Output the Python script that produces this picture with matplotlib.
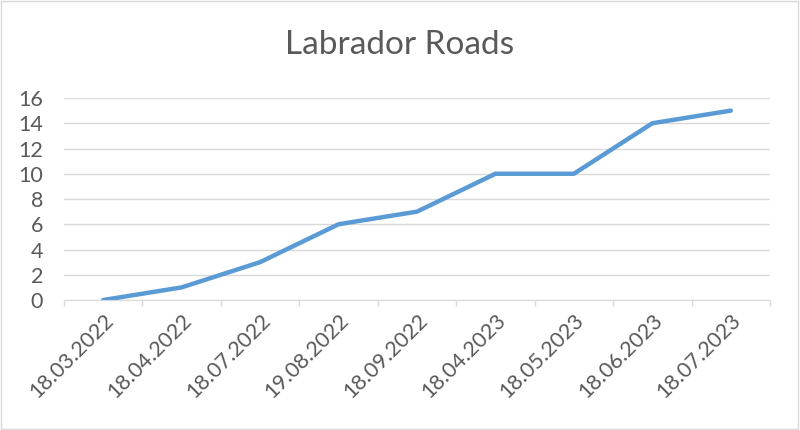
import matplotlib
matplotlib.use("Agg")
import matplotlib.pyplot as plt
from matplotlib.patches import Rectangle
from matplotlib.ticker import FixedLocator

dates = ["18.03.2022", "18.04.2022", "18.07.2022", "19.08.2022", "18.09.2022",
         "18.04.2023", "18.05.2023", "18.06.2023", "18.07.2023"]
values = [0, 1, 3, 6, 7, 10, 10, 14, 15]
yticks = [0, 2, 4, 6, 8, 10, 12, 14, 16]

plt.rcParams['font.family'] = ['Lato', 'DejaVu Sans']

fig = plt.figure(figsize=(8, 4.3), dpi=100)
ax = fig.add_axes([0.08, 0.3023, 0.8825, 0.4698])

x = list(range(len(dates)))
ax.plot(x, values, color="#5B9BD5", linewidth=3.2, solid_capstyle="round", zorder=3)

ax.set_xlim(-0.5, len(dates) - 0.5)
ax.set_ylim(0, 16)
ax.set_yticks(yticks)
ax.set_yticklabels([str(v) for v in yticks], fontsize=15.5, color="#595959")
ax.set_xticks(x)
ax.set_xticklabels(dates, rotation=45, ha="right", rotation_mode="anchor",
                   fontsize=15.5, color="#595959")
ax.xaxis.set_minor_locator(FixedLocator([i - 0.5 for i in range(len(dates) + 1)]))
ax.tick_params(axis="x", which="major", length=0, pad=7)
ax.tick_params(axis="x", which="minor", length=4.5, width=1, color="#D9D9D9", direction="out")
ax.tick_params(axis="y", length=0, pad=15)
ax.grid(axis="y", color="#D9D9D9", linewidth=1)
ax.set_axisbelow(True)
for s in ["top", "right", "left"]:
    ax.spines[s].set_visible(False)
ax.spines["bottom"].set_color("#D9D9D9")

fig.text(0.5, 0.895, "Labrador Roads", ha="center", va="center",
         fontsize=24, color="#595959")

fig.patches.append(Rectangle((0.001, 0.002), 0.997, 0.995, transform=fig.transFigure,
                             fill=False, edgecolor="#D9D9D9", linewidth=1))

fig.savefig("out.png", dpi=100)
